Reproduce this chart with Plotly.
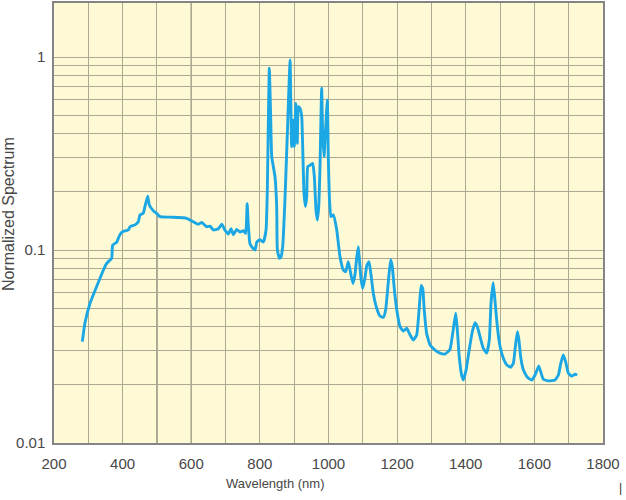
import plotly.graph_objects as go

wavelength = [282.5, 290, 305, 324, 344, 353.5, 368, 371, 383, 392, 402, 416.6, 421.5, 436, 445.7, 450.7, 460, 465, 473, 477.8,
              489, 499, 509, 538, 587, 606, 620.6, 630.5, 645, 655, 664, 679, 689, 698, 708, 716, 722.6, 732.5, 742, 752,
              758.7, 763, 766, 771, 776, 786, 791, 800, 810, 818, 821.7, 827.5, 831.5, 834.5, 844, 849, 851, 857, 861.6, 866.5,
              873, 880, 888, 890.8, 892.7, 897.5, 900.5, 905, 909, 912, 917, 922, 925, 928.6, 932.6, 936.5, 939.5, 946, 954, 958.7,
              963.6, 967.5, 971.5, 975, 980, 983, 987, 992, 996.6, 999.6, 1002.5, 1007, 1014, 1024, 1028.7, 1033.6, 1043, 1050, 1057.8, 1065.6,
              1071.5, 1077, 1082, 1087, 1091, 1094.6, 1099.6, 1106, 1112, 1118, 1124, 1130.6, 1140.5, 1150, 1160, 1166.5, 1174, 1181, 1186, 1192,
              1199, 1208.5, 1218, 1228, 1237.6, 1247, 1257, 1264, 1270, 1274.6, 1279, 1286, 1296, 1310.5, 1325, 1339.6, 1354, 1362, 1370.8, 1375.5,
              1381, 1388, 1393, 1401, 1410, 1419, 1427, 1433.7, 1441.6, 1451, 1461, 1468.7, 1473.6, 1480, 1485, 1492, 1500, 1509.6, 1519.5, 1531,
              1538.7, 1544.6, 1550.4, 1555, 1560, 1568, 1579.5, 1592, 1602, 1612.6, 1618.5, 1626, 1640.7, 1660, 1670, 1677, 1684.4, 1691, 1699, 1709,
              1718.5, 1725]
spectrum = [0.0335, 0.0417, 0.053, 0.0645, 0.0788, 0.0853, 0.0906, 0.106, 0.110, 0.120, 0.125, 0.127, 0.132, 0.135, 0.140, 0.152, 0.155, 0.168, 0.190, 0.171,
            0.160, 0.155, 0.149, 0.148, 0.146, 0.140, 0.136, 0.139, 0.132, 0.133, 0.127, 0.129, 0.136, 0.127, 0.121, 0.129, 0.120, 0.128, 0.124, 0.126,
            0.122, 0.174, 0.137, 0.108, 0.104, 0.100, 0.110, 0.113, 0.110, 0.127, 0.205, 0.874, 0.49, 0.305, 0.240, 0.168, 0.10, 0.0906, 0.092, 0.104,
            0.18, 0.40, 0.965, 0.49, 0.343, 0.47, 0.343, 0.575, 0.357, 0.553, 0.542, 0.49, 0.33, 0.197, 0.168, 0.189, 0.270, 0.275, 0.281, 0.240,
            0.161, 0.143, 0.168, 0.26, 0.689, 0.40, 0.305, 0.435, 0.60, 0.292, 0.189, 0.149, 0.152, 0.127, 0.108, 0.0923, 0.0788, 0.0772, 0.0869, 0.0742,
            0.0671, 0.0742, 0.0906, 0.104, 0.0853, 0.0713, 0.0633, 0.0713, 0.0836, 0.0869, 0.0742, 0.0597, 0.0499, 0.0455, 0.0448, 0.0489, 0.0671, 0.0890, 0.0819, 0.0621,
            0.0489, 0.0401, 0.0380, 0.0393, 0.0363, 0.0342, 0.0363, 0.0489, 0.0655, 0.0633, 0.0489, 0.0370, 0.0322, 0.0303, 0.0292, 0.0289, 0.0305, 0.0370, 0.0470, 0.0385,
            0.0280, 0.0225, 0.0212, 0.0239, 0.0303, 0.0377, 0.0420, 0.0401, 0.0356, 0.0310, 0.0292, 0.0342, 0.053, 0.0677, 0.0551, 0.0401, 0.0316, 0.0275, 0.0254, 0.0247,
            0.0259, 0.0316, 0.0377, 0.0342, 0.0280, 0.0239, 0.0219, 0.0212, 0.0225, 0.0251, 0.0234, 0.0214, 0.0210, 0.0212, 0.0225, 0.0259, 0.0286, 0.0264, 0.0230, 0.0222,
            0.0227, 0.0225]

x_grid = list(range(200, 1801, 100))
x_labels = [str(v) if v % 200 == 0 else "" for v in x_grid]
y_grid = [m * 10 ** e for e in (-2, -1, 0) for m in range(1, 10)]
y_labels = {0.01: "0.01", 0.1: "0.1", 1: "1"}
y_text = [y_labels.get(round(v, 6), "") for v in y_grid]

font_fam = "Liberation Sans, Arial, sans-serif"
grid_col = "#aca892"
dark_col = "#6f6c62"
text_col = "#474747"

fig = go.Figure()
fig.add_trace(go.Scatter(x=wavelength, y=spectrum, mode="lines",
                         line=dict(color="#1ba6e4", width=2.9, shape="spline", smoothing=0.4),
                         hoverinfo="skip"))

fig.add_shape(type="line", x0=600, x1=600, y0=0, y1=1, xref="x", yref="paper",
              line=dict(color=dark_col, width=1.2), layer="below")
fig.add_shape(type="line", x0=500, x1=500, y0=0.01, y1=0.15, xref="x", yref="y",
              line=dict(color=dark_col, width=1.2), layer="below")

fig.update_layout(
    width=626, height=500,
    margin=dict(l=54, r=23, t=3, b=57, autoexpand=False),
    paper_bgcolor="white", plot_bgcolor="#fefad6",
    showlegend=False,
    font=dict(family=font_fam, size=15, color=text_col),
)
fig.update_xaxes(range=[200, 1800], tickvals=x_grid, ticktext=x_labels,
                 showgrid=True, gridcolor=grid_col, gridwidth=1,
                 showline=True, linecolor="#858585", linewidth=1.5, mirror=True,
                 ticks="", ticklen=0, zeroline=False, automargin=False,
                 ticklabelstandoff=6,
                 tickfont=dict(size=15))
fig.update_yaxes(type="log", range=[-2, 0.28], tickvals=y_grid, ticktext=y_text,
                 showgrid=True, gridcolor=grid_col, gridwidth=1,
                 showline=True, linecolor="#858585", linewidth=1.5, mirror=True,
                 ticks="", ticklen=0, zeroline=False, automargin=False,
                 ticklabelstandoff=4,
                 tickfont=dict(size=15))

fig.add_annotation(text="Wavelength (nm)", x=0.404, y=-0.093, xref="paper", yref="paper",
                   xanchor="center", yanchor="middle", showarrow=False,
                   font=dict(size=13, color=text_col))
fig.add_annotation(text="Normalized Spectrum", x=-0.084, y=0.52, xref="paper", yref="paper",
                   xanchor="center", yanchor="middle", textangle=-90, showarrow=False,
                   font=dict(size=16, color=text_col))
fig.add_annotation(text="|", x=1.031, y=-0.102, xref="paper", yref="paper",
                   xanchor="center", yanchor="middle", showarrow=False,
                   font=dict(size=12, color="#333333"))
fig.write_html("out.html", config={"displayModeBar": False},
               post_script="document.body.style.margin='0';document.body.style.overflow='hidden';")
